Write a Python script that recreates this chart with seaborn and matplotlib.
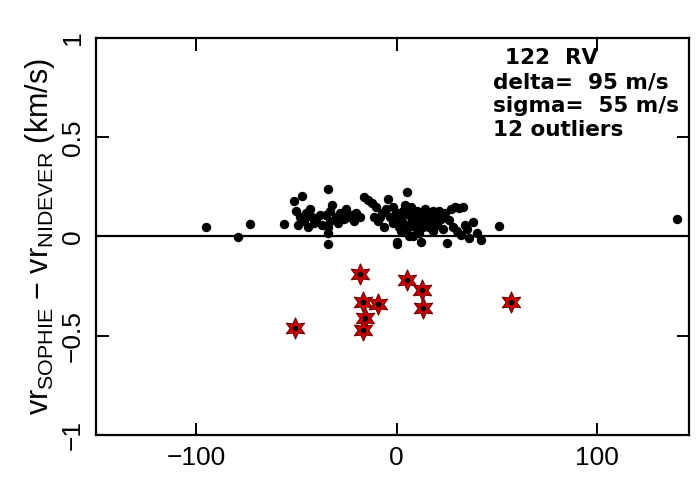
import numpy as np
import pandas as pd
import matplotlib
matplotlib.use("Agg")
import matplotlib.pyplot as plt
import seaborn as sns

# Black points: velocity, difference (km/s)
x_in = [-95, -79, -73, -56,
        -51, -47, -50, -48, -46, -44, -49, -45,
        -42, -40, -38, -41,
        -34, -34, -34, -34, -33, -35, -32, -33,
        -30, -28, -26, -24, -22, -20, -18, -25,
        -16, -14, -12, -10, -11, -9, -7, -5, -4, -3, -2, -1,
        0, 0, 1, 2, 3, 4, 5, 6, 7, 8, 6, 9, 10, 11, 12, 13, 14, 15, 16, 17, 18, 19,
        21, 24, 26, 27, 29, 31, 33, 25, 28, 30, 32, 34, 35, 36, 38, 42, 40, 51, 140,
        -6, -8, -2, 1, 2, 3, 5, 7, 8, 9, 10, 11, 12, 13, 14, 16, 17, 18, 20, 22, 23,
        -37, -43, -29, -21]
y_in = [0.05, -0.005, 0.065, 0.063,
        0.18, 0.205, 0.13, 0.10, 0.08, 0.05, 0.06, 0.12,
        0.10, 0.09, 0.11, 0.07,
        0.24, -0.04, 0.02, 0.05, 0.08, 0.11, 0.16, 0.13,
        0.10, 0.12, 0.09, 0.10, 0.11, 0.12, 0.10, 0.14,
        0.20, 0.185, 0.17, 0.15, 0.10, 0.08, 0.12, 0.14, 0.19, 0.10, 0.07, 0.11,
        -0.04, -0.026, 0.05, 0.09, 0.13, 0.16, 0.225, 0.11, 0.07, 0.0, 0.0, 0.12, 0.09, 0.06, -0.026, 0.10, 0.14, 0.08, 0.05, 0.11, 0.03, 0.09,
        0.13, 0.12, 0.083, 0.14, 0.15, 0.145, 0.15, -0.035, 0.05, 0.03, 0.01, 0.06, 0.04, -0.01, 0.075, -0.02, 0.02, 0.055, 0.088,
        0.05, 0.10, 0.15, 0.12, 0.03, 0.07, 0.04, 0.15, 0.10, 0.05, 0.13, 0.02, 0.08, 0.05, 0.11, 0.12, 0.07, 0.13, 0.06, 0.09, 0.04,
        0.06, 0.14, 0.07, 0.08]

# Outliers (red stars)
x_out = [-18.2, 5.1, 12.6, -16.6, -9.1, 13.1, 57.1, -15.7, -16.6, -50.7]
y_out = [-0.19, -0.22, -0.27, -0.33, -0.34, -0.36, -0.33, -0.41, -0.47, -0.46]

stats_lines = ["delta=  95 m/s", "sigma=  55 m/s", "12 outliers"]
header = "122  RV"

sns.set_style("ticks")
plt.rcParams['font.family'] = ['Liberation Sans', 'DejaVu Sans']
plt.rcParams['mathtext.fontset'] = 'custom'
plt.rcParams['mathtext.rm'] = 'Liberation Sans'
plt.rcParams['text.color'] = 'black'
plt.rcParams['axes.labelcolor'] = 'black'

fig = plt.figure(figsize=(7.0, 4.86), dpi=100)
ax = fig.add_axes([96/700, 1-435/486, (689-96)/700, (435-38)/486])

df_in = pd.DataFrame({"x": x_in, "y": y_in})
df_out = pd.DataFrame({"x": x_out, "y": y_out})

ax.axhline(0, color='black', lw=1.6, zorder=1)
sns.scatterplot(data=df_in, x="x", y="y", ax=ax, color='black', s=46,
                edgecolor='black', linewidth=0, zorder=3)
sns.scatterplot(data=df_out, x="x", y="y", ax=ax, marker=(6, 1, 0), color='#cc0000',
                s=230, edgecolor='#6b0000', linewidth=0.8, zorder=4)
sns.scatterplot(data=df_out, x="x", y="y", ax=ax, color='black', s=16,
                linewidth=0, zorder=5)

ax.set_xlim(-150, 146)
ax.set_ylim(-1, 1)
ax.set_xticks([-100, 0, 100])
ax.set_yticks([-1, -0.5, 0, 0.5, 1])
ax.set_xticklabels(['\u2212100', '0', '100'])
ax.set_yticklabels(['\u22121', '\u22120.5', '0', '0.5', '1'], rotation=90, va='center')
ax.tick_params(direction='in', length=9, width=1.4, top=True, right=True,
               labelsize=19, pad=8, colors='black')
for s in ax.spines.values():
    s.set_linewidth(1.6)
    s.set_color('black')

ax.set_xlabel("")
ax.set_ylabel(r'vr$_{\mathregular{SOPHIE}}$ $-$ vr$_{\mathregular{NIDEVER}}$ (km/s)',
              fontsize=22, labelpad=3)

ann_font = ['DejaVu Sans']
fig.text(505/700, 1-58/486, header, fontsize=15.5, fontweight='bold', va='center',
         ha='left', family=ann_font)
for i, line in enumerate(stats_lines):
    fig.text(493/700, 1-(82+24*i)/486, line, fontsize=15.5, fontweight='bold',
             va='center', ha='left', family=ann_font)

fig.savefig("out.png", dpi=100, facecolor='white')
